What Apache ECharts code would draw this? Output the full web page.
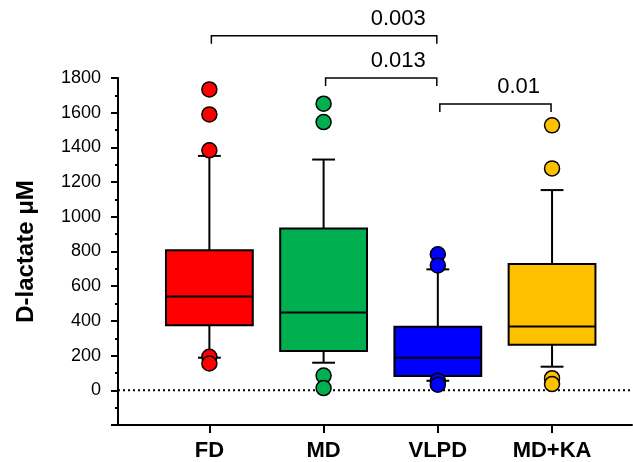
<!DOCTYPE html>
<html>
<head>
<meta charset="utf-8">
<script src="https://cdn.jsdelivr.net/npm/echarts@6/dist/echarts.min.js"></script>
<style>html,body{margin:0;padding:0;background:#fff;}#chart{width:633px;height:462px;}</style>
</head>
<body>
<div id="chart"></div>
<script>
// ---- data ----
var categories = ['FD', 'MD', 'VLPD', 'MD+KA'];
var colors = ['#FF0000', '#00B050', '#0000FF', '#FFC000'];
// [lower whisker, Q1, median, Q3, upper whisker]
var boxFD   = [188, 375, 540, 807, 1351];
var boxMD   = [159, 227, 449, 932, 1330];
var boxVLPD = [55, 83, 188, 366, 697];
var boxMDKA = [136, 263, 368, 728, 1154];
var outFD   = [1734, 1590, 1383, 193, 155];
var outMD   = [1652, 1546, 85, 13];
var outVLPD = [784, 720, 55, 32];
var outMDKA = [1527, 1279, 70, 36];
var comparisons = [[1, 3], [2, 3], [3, 4]];
var bracketLevels = [2043, 1800, 1650];
var pLabels = ['0.003', '0.013', '0.01'];
var yTicks = [0, 200, 400, 600, 800, 1000, 1200, 1400, 1600, 1800];

var boxes = [boxFD, boxMD, boxVLPD, boxMDKA];
var outs = [outFD, outMD, outVLPD, outMDKA];

var chart = echarts.init(document.getElementById('chart'), null, {renderer: 'canvas'});

var boxData = boxes.map(function (b, i) { return [i + 1].concat(b); });

var series = [];
// zero dotted line
series.push({
  type: 'line', data: [[0.2, 0], [4.7, 0]], symbol: 'none', silent: true,
  lineStyle: {color: '#000', width: 2, type: [2, 3]}, z: 1
});
// boxes
series.push({
  type: 'custom', z: 2,
  data: boxData,
  encode: {x: 0, y: [1, 2, 3, 4, 5]},
  renderItem: function (params, api) {
    var x = api.value(0);
    var pMin = api.coord([x, api.value(1)]);
    var pQ1 = api.coord([x, api.value(2)]);
    var pMed = api.coord([x, api.value(3)]);
    var pQ3 = api.coord([x, api.value(4)]);
    var pMax = api.coord([x, api.value(5)]);
    var halfBox = api.size([0.38, 0])[0];
    var halfCap = api.size([0.1, 0])[0];
    var cx = pMin[0];
    var ls = {stroke: '#000', lineWidth: 2};
    return {
      type: 'group',
      children: [
        {type: 'line', shape: {x1: cx, y1: pMin[1], x2: cx, y2: pMax[1]}, style: ls},
        {type: 'line', shape: {x1: cx - halfCap, y1: pMin[1], x2: cx + halfCap, y2: pMin[1]}, style: ls},
        {type: 'line', shape: {x1: cx - halfCap, y1: pMax[1], x2: cx + halfCap, y2: pMax[1]}, style: ls},
        {type: 'rect', shape: {x: cx - halfBox, y: pQ3[1], width: 2 * halfBox, height: pQ1[1] - pQ3[1]},
          style: {fill: colors[params.dataIndex], stroke: '#000', lineWidth: 2}},
        {type: 'line', shape: {x1: cx - halfBox, y1: pMed[1], x2: cx + halfBox, y2: pMed[1]}, style: ls}
      ]
    };
  }
});
// outliers
outs.forEach(function (arr, i) {
  series.push({
    type: 'scatter', z: 3,
    data: arr.map(function (v) { return [i + 1, v]; }),
    symbol: 'circle', symbolSize: 15,
    itemStyle: {color: colors[i], borderColor: '#000', borderWidth: 1.5, opacity: 1}
  });
});
// significance brackets
series.push({
  type: 'custom', z: 4, clip: false, silent: true,
  data: comparisons.map(function (c, i) { return [c[0], c[1], bracketLevels[i]]; }),
  encode: {x: [0, 1], y: 2},
  renderItem: function (params, api) {
    var l = api.coord([api.value(0), api.value(2)]);
    var r = api.coord([api.value(1), api.value(2)]);
    var x1 = l[0] + 2, x2 = r[0] - 1, y = l[1], leg = 8;
    var ls = {stroke: '#000', lineWidth: 1.5, fill: null};
    return {
      type: 'group',
      children: [
        {type: 'polyline', shape: {points: [[x1, y + leg], [x1, y], [x2, y], [x2, y + leg]]}, style: ls},
        {type: 'text', x: x2 - 11, y: y - 6,
          style: {text: pLabels[params.dataIndex], fill: '#000', font: '22px "Liberation Sans", Arial, sans-serif',
            align: 'right', verticalAlign: 'bottom'}}
      ]
    };
  }
});

chart.setOption({
  animation: false,
  backgroundColor: '#fff',
  grid: {left: 118, right: 1, top: 78, bottom: 34, containLabel: false},
  xAxis: {
    type: 'value', min: 0.2, max: 4.7,
    axisLine: {show: true, onZero: false, lineStyle: {color: '#000', width: 2}},
    axisTick: {show: true, length: 8, customValues: [1, 2, 3, 4], lineStyle: {color: '#000', width: 2}},
    axisLabel: {customValues: [1, 2, 3, 4], margin: 15, color: '#000',
      fontFamily: '"Liberation Sans", Arial, sans-serif', fontWeight: 'bold', fontSize: 22,
      formatter: function (v) { return categories[Math.round(v) - 1] || ''; }},
    splitLine: {show: false}
  },
  yAxis: {
    type: 'value', min: -200, max: 1800, interval: 200,
    name: 'D-lactate \u03bcM', nameLocation: 'middle', nameGap: 80,
    nameTextStyle: {color: '#000', fontFamily: '"Liberation Sans", Arial, sans-serif', fontWeight: 'bold', fontSize: 24},
    axisLine: {show: true, onZero: false, lineStyle: {color: '#000', width: 2}},
    axisTick: {show: true, length: 7, lineStyle: {color: '#000', width: 2}},
    minorTick: {show: true, splitNumber: 2, length: 3, lineStyle: {color: '#000', width: 2}},
    axisLabel: {margin: 17, color: '#000', fontFamily: '"Liberation Sans", Arial, sans-serif', fontSize: 18,
      formatter: function (v) { return yTicks.indexOf(v) >= 0 ? String(v) : ''; }},
    splitLine: {show: false}, minorSplitLine: {show: false}
  },
  series: series
});
</script>
</body>
</html>
